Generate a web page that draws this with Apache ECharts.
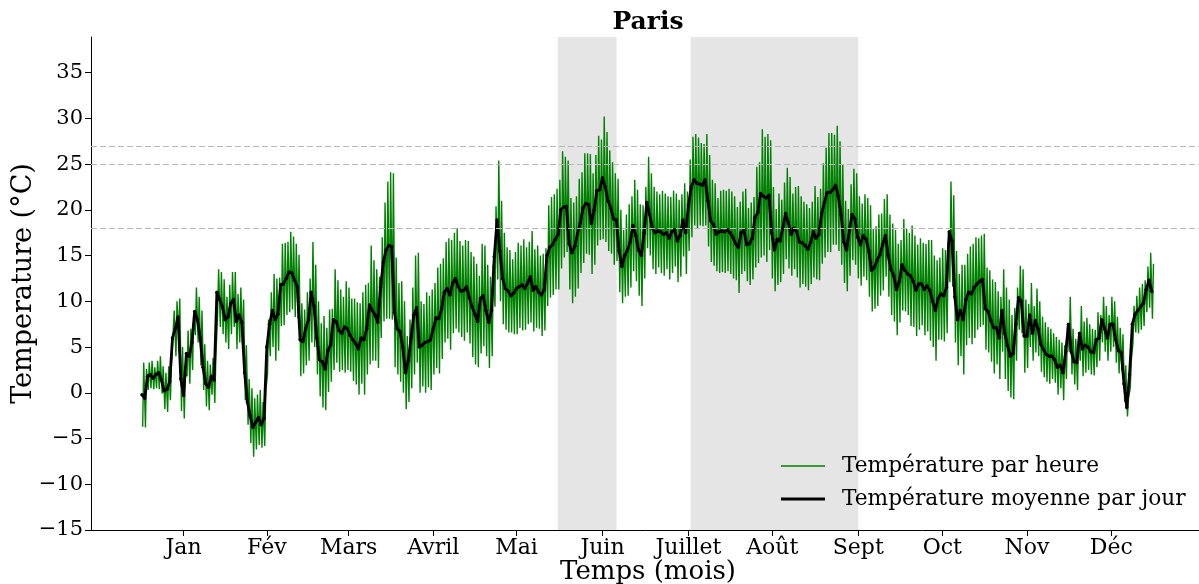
<!DOCTYPE html>
<html>
<head>
<meta charset="utf-8">
<script src="https://cdn.jsdelivr.net/npm/echarts@6/dist/echarts.min.js"></script>
<style>html,body{margin:0;padding:0;background:#fff;}#c{width:1199px;height:584px;}</style>
</head>
<body>
<div id="c"></div>
<script>
// ---- data ----
const monthLabels = ['Jan','Fév','Mars','Avril','Mai','Juin','Juillet','Août','Sept','Oct','Nov','Déc'];
const monthTickDays = [15, 45, 74.5, 105, 135, 166, 197, 227.2, 258.2, 288.5, 319, 349.4];
const yTicks = [-15, -10, -5, 0, 5, 10, 15, 20, 25, 30, 35];
const thresholds = [18, 25, 27];
const shadedPeriods = [[149.9, 171.1], [197.8, 258.2]];

// daily mean temperature, day 0 = 1 Jan
const dailyMean = [
 -0.2,-0.6,1.8,2.0,1.6,2.0,2.2,1.4,0.2,0.4,
 1.2,6.0,7.0,8.3,1.5,-0.3,4.3,4.0,5.5,8.9,
 8.0,6.0,2.8,1.0,0.6,1.8,1.4,11.0,10.2,9.4,
 8.0,8.3,9.8,10.2,7.8,8.5,7.7,2.2,-1.0,-2.5,
 -3.8,-3.2,-2.7,-3.5,-2.8,5.0,7.5,9.0,8.0,8.6,
 11.8,11.9,12.5,13.2,13.1,12.3,11.6,5.8,5.6,7.0,
 8.0,11.0,9.5,6.0,3.6,3.4,2.6,4.6,5.2,8.0,
 7.8,6.8,6.5,7.2,7.0,6.3,5.8,5.4,4.8,6.0,
 5.8,7.0,9.6,9.0,8.5,7.7,11.5,14.3,15.6,16.1,
 16.0,8.8,7.0,6.7,5.0,2.2,3.5,6.0,8.5,9.3,
 5.0,5.2,5.5,5.6,5.8,7.0,8.2,8.1,9.2,11.0,
 11.4,10.7,12.0,12.5,11.6,11.1,11.2,11.6,10.4,9.4,
 8.6,7.8,10.3,10.6,9.0,7.7,9.0,14.9,18.9,15.5,
 12.5,11.4,11.1,10.6,10.9,11.4,11.6,11.8,11.4,12.0,
 12.7,11.2,11.6,11.0,10.7,11.3,15.0,15.9,16.2,16.8,
 17.3,20.0,20.3,20.4,16.3,15.3,16.0,17.4,18.6,20.2,
 20.7,20.6,18.5,20.0,22.1,22.2,23.5,22.5,21.0,20.2,
 19.0,18.9,15.5,13.8,15.0,15.6,16.5,18.3,17.2,15.6,
 15.0,17.5,20.8,19.5,18.0,17.5,17.7,17.6,17.3,17.5,
 16.9,17.6,17.8,16.6,17.2,18.9,17.5,20.5,22.5,23.3,
 22.9,22.8,22.7,23.3,21.0,18.8,18.4,17.3,17.6,17.7,
 17.6,17.8,17.5,17.0,16.3,15.9,17.5,17.8,16.2,16.3,
 16.9,19.2,19.7,21.8,21.5,21.3,21.6,17.5,15.6,16.8,
 16.6,18.0,19.6,18.6,17.3,18.0,17.6,16.5,16.4,16.1,
 15.7,16.4,17.6,16.9,17.3,19.6,20.8,21.9,21.9,22.2,
 22.7,21.5,19.5,16.5,15.6,17.8,19.5,19.0,17.0,16.2,
 17.2,16.8,15.5,13.4,13.7,14.5,15.1,16.2,17.2,15.0,
 13.5,12.8,11.3,12.2,14.0,13.4,13.0,12.8,12.2,11.2,
 11.9,11.9,11.3,11.7,11.2,10.0,9.0,10.3,10.8,10.6,
 11.5,17.6,16.6,10.5,8.0,9.0,8.0,10.2,11.0,10.8,
 11.5,11.9,12.2,12.4,9.2,8.9,7.9,7.1,7.1,6.0,
 9.0,6.5,5.2,4.0,4.3,7.5,10.4,10.0,6.2,6.2,
 8.5,6.5,7.9,7.0,5.3,4.7,4.2,4.0,4.0,3.6,
 2.8,3.0,2.2,4.5,7.5,4.5,3.4,3.3,6.5,4.8,
 5.2,5.0,4.5,4.4,5.8,6.0,8.0,7.0,6.0,7.5,
 7.5,5.8,4.6,4.4,1.0,-1.6,2.0,7.5,8.6,9.0,
 9.4,9.8,11.3,12.3,11.1
];

// half of the day's hourly swing (max above / min below the mean)
const dailyHalfRange = [
 3.5,3.2,1.5,1.5,1.2,1.5,1.8,1.5,2.0,2.5,
 2.0,3.0,3.0,2.0,3.5,2.5,2.5,3.0,3.0,2.6,
 2.5,3.0,2.5,2.5,2.5,2.0,2.5,2.5,3.0,3.0,
 2.5,3.5,3.4,3.0,3.0,3.0,2.5,3.0,2.5,3.0,
 3.2,3.0,3.0,2.5,3.0,3.0,3.5,4.0,4.5,4.0,
 4.5,4.5,4.0,4.4,4.0,4.0,3.5,4.0,3.5,4.0,
 4.5,5.5,4.5,4.0,4.0,5.0,4.5,4.5,4.0,5.5,
 4.5,4.5,4.0,5.0,4.5,4.0,4.5,4.5,5.0,5.0,
 6.0,5.0,6.5,5.5,5.0,5.0,5.5,6.5,7.5,8.0,
 8.0,6.0,5.0,5.5,5.0,4.0,4.5,5.5,6.5,6.0,
 5.0,4.5,5.5,5.0,5.5,5.0,5.5,6.0,5.5,5.5,
 5.5,6.0,5.5,5.5,5.0,5.0,5.5,5.0,5.0,5.5,
 5.5,5.0,6.0,5.5,5.0,5.0,5.0,5.5,6.5,5.5,
 5.0,4.5,4.5,4.0,4.5,5.0,4.5,5.0,4.5,4.5,
 5.0,4.5,4.5,4.0,4.5,4.5,5.5,5.5,5.5,5.5,
 6.0,6.4,5.5,5.0,5.0,5.5,5.5,6.0,5.5,6.0,
 5.5,5.5,5.5,6.0,6.0,5.5,6.7,6.0,5.5,5.0,
 5.0,4.5,4.5,4.0,4.5,5.0,5.0,5.0,5.0,5.0,
 5.5,5.0,5.0,4.5,4.5,4.5,4.0,4.5,4.5,4.0,
 4.5,4.5,4.0,4.5,4.5,4.0,4.5,5.0,5.5,5.0,
 5.0,4.5,4.5,5.0,5.0,4.5,4.5,4.0,4.5,4.5,
 4.5,4.5,4.5,4.5,4.0,5.0,4.5,4.5,4.0,4.5,
 4.5,5.5,5.5,7.0,6.5,7.0,6.0,5.0,4.5,5.0,
 4.5,5.0,5.0,5.0,4.5,4.5,5.0,5.0,4.5,4.5,
 4.5,4.5,5.0,4.5,5.0,5.5,6.0,6.5,6.5,6.0,
 6.5,6.0,5.5,4.5,4.5,5.0,5.0,5.0,4.5,4.5,
 4.5,4.5,5.0,4.5,4.5,5.0,4.5,5.0,4.5,4.5,
 5.0,5.0,5.0,4.5,5.0,4.5,4.5,5.5,5.0,5.0,
 5.0,4.5,5.0,5.0,5.5,5.0,5.5,4.5,5.0,5.0,
 5.0,5.5,5.0,5.0,5.0,5.0,6.0,5.0,5.0,5.5,
 5.5,5.0,5.0,5.0,4.5,4.5,4.5,5.0,4.0,4.5,
 4.5,5.0,5.0,4.5,5.0,4.0,3.5,3.5,4.0,3.5,
 3.5,3.0,3.5,3.0,3.0,3.0,3.0,3.0,2.5,2.5,
 3.0,2.5,3.0,3.0,3.0,2.5,2.5,3.0,3.0,3.0,
 3.0,2.5,2.5,2.5,3.0,2.5,2.5,2.5,2.5,3.0,
 2.5,2.5,2.5,2.0,2.0,1.0,1.5,2.0,2.0,2.5,
 2.5,2.5,2.5,3.0,3.0
];
// hour-of-day (fraction) of the daily minimum and maximum
const minHourFrac = 0.25, maxHourFrac = 0.625;

// ---- build series ----
const meanData = dailyMean.map((v, d) => [d, v]);
const hourlyData = [];
dailyMean.forEach((v, d) => {
  const a = dailyHalfRange[d];
  hourlyData.push([d + minHourFrac, +(v - a).toFixed(2)]);
  hourlyData.push([d + maxHourFrac, +(v + a).toFixed(2)]);
});

const FONT = 'DejaVu Serif';
const minus = s => String(s).replace('-', '\u2212');

const chart = echarts.init(document.getElementById('c'), null, {renderer: 'canvas'});
chart.setOption({
  animation: false,
  backgroundColor: '#ffffff',
  title: {
    text: 'Paris', left: 648, top: 10, textAlign: 'center', padding: 0,
    textStyle: {fontFamily: FONT, fontWeight: 'bold', fontSize: 25, color: '#000'}
  },
  grid: {left: 91, right: -6, top: 37, bottom: 54, containLabel: false, outerBoundsMode: 'none'},
  xAxis: {
    type: 'value', min: -18.38, max: 383.2,
    name: 'Temps (mois)', nameLocation: 'middle', nameGap: 29, nameMoveOverlap: false,
    nameTextStyle: {fontFamily: FONT, fontSize: 26, color: '#000'},
    axisLine: {show: true, onZero: false, lineStyle: {color: '#000', width: 1}},
    axisTick: {show: true, length: 6, lineStyle: {color: '#000'}, customValues: monthTickDays},
    axisLabel: {
      show: true, margin: 7, fontFamily: FONT, fontSize: 22, color: '#000',
      customValues: monthTickDays,
      formatter: v => { const i = monthTickDays.findIndex(t => Math.abs(t - v) < 1e-6); return i >= 0 ? monthLabels[i] : ''; }
    },
    splitLine: {show: false}
  },
  yAxis: {
    type: 'value', min: -15, max: 38.9,
    name: 'Temperature (°C)', nameLocation: 'middle', nameGap: 54, nameRotate: 90, nameMoveOverlap: false,
    nameTextStyle: {fontFamily: FONT, fontSize: 27, color: '#000'},
    axisLine: {show: true, onZero: false, lineStyle: {color: '#000', width: 1}},
    axisTick: {show: true, length: 6, lineStyle: {color: '#000'}, customValues: yTicks},
    axisLabel: {show: true, margin: 8, fontFamily: FONT, fontSize: 21, color: '#000',
      customValues: yTicks, formatter: v => minus(v)},
    splitLine: {show: false}
  },
  legend: {
    orient: 'vertical', left: 781, top: 455, padding: 0, itemWidth: 44, itemHeight: 22, itemGap: 11,
    textStyle: {fontFamily: FONT, fontSize: 21.7, color: '#000', lineHeight: 22, padding: [0, 0, 0, 12]},
    data: [
      {name: 'Température par heure', icon: 'path://M0 0H44V1.3H0Z'},
      {name: 'Température moyenne par jour', icon: 'path://M0 0H44V3H0Z'}
    ]
  },
  series: [
    {
      name: 'bands', type: 'line', data: [], z: 1, silent: true,
      markArea: {silent: true, itemStyle: {color: '#e5e5e5'},
        data: shadedPeriods.map(p => [{xAxis: p[0]}, {xAxis: p[1]}])},
      markLine: {silent: true, symbol: 'none', label: {show: false},
        lineStyle: {color: '#b8b8b8', type: [6, 3], width: 1.2},
        data: thresholds.map(t => ({yAxis: t}))}
    },
    {
      name: 'Température par heure', type: 'line', data: hourlyData, z: 3,
      showSymbol: false, symbol: 'none', sampling: null,
      lineStyle: {color: '#008000', width: 1.4}, itemStyle: {color: '#008000'}
    },
    {
      name: 'Température moyenne par jour', type: 'line', data: meanData, z: 4,
      symbol: 'circle', symbolSize: 3.5, showSymbol: true,
      lineStyle: {color: '#000', width: 2.8}, itemStyle: {color: '#000'}
    }
  ]
});
</script>
</body>
</html>
